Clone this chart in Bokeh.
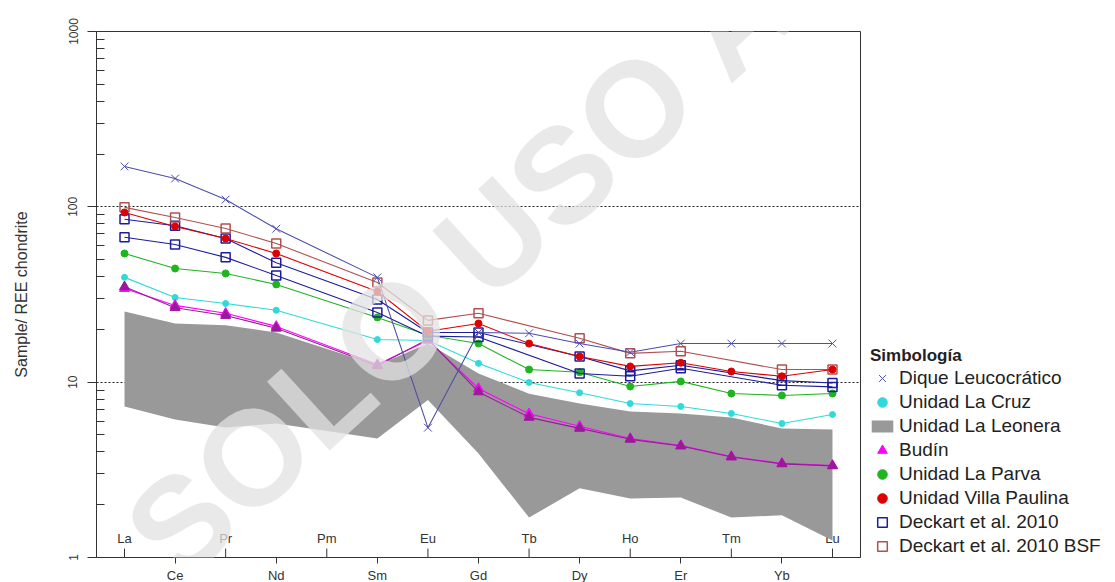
from bokeh.plotting import figure
from bokeh.models import Range1d, FixedTicker, Legend, LegendItem, Label
from bokeh.embed import file_html
from bokeh.resources import INLINE
from bokeh.core.properties import value

# Chondrite-normalised REE patterns (None = not analysed)
ELEMENTS = ["La", "Ce", "Pr", "Nd", "Pm", "Sm", "Eu", "Gd",
            "Tb", "Dy", "Ho", "Er", "Tm", "Yb", "Lu"]

dique_leucocratico = [170, 145, 110, 75, None, 39.6, 5.5, 19.2, 19.0, 16.6, 14.8, 16.6, 16.6, 16.6, 16.6]
unidad_la_cruz = [39.6, 30.4, 28.1, 25.7, None, 17.5, 17.3, 12.8, 9.96, 8.7, 7.55, 7.27, 6.63, 5.81, 6.54]
la_leonera_max = [25.3, 21.6, 21.1, 19.2, None, 12.5, 16.6, 11.2, 8.6, 7.56, 6.8, 6.63, 6.29, 5.44, 5.37]
la_leonera_min = [7.27, 6.13, 5.52, 5.81, None, 4.77, 7.9, 3.92, 1.69, 2.48, 2.17, 2.2, 1.69, 1.74, 1.25]
budin_1 = [34.2, 27.4, 24.7, 20.8, None, 12.6, 17.3, 9.2, 6.6, 5.6, 4.77, 4.35, 3.77, 3.44, 3.35]
budin_2 = [35.0, 26.6, 24.0, 20.3, None, 12.4, 17.6, 8.8, 6.3, 5.45, 4.72, 4.32, 3.74, 3.42, 3.33]
unidad_la_parva = [54.2, 44.5, 41.7, 36.1, None, 23.4, 18.5, 16.6, 11.8, 11.4, 9.45, 10.1, 8.62, 8.4, 8.62]
villa_paulina = [92.9, 77.3, 66.0, 54.2, None, 32.9, 19.5, 21.6, 16.6, 14.0, 12.3, 12.9, 11.5, 10.8, 11.8]
deckart_1 = [85, 78, 66, 48, None, 29.6, 19.2, 19.2, None, 14.0, 11.6, 12.5, None, 10.2, 9.9]
deckart_2 = [67, 61, 51.5, 40.6, None, 25.0, 18.3, 18.1, None, 11.2, 10.8, 12.0, None, 9.6, 9.4]
deckart_bsf = [99.3, 87, 75.3, 61.8, None, 37.0, 22.5, 24.7, None, 17.8, 14.6, 15.0, None, 11.8, 11.8]

Y_TICKS = [1, 10, 100, 1000]

FONT = "Liberation Sans"
TXT = "#333333"


def present(vals):
    xs = [i + 1 for i, v in enumerate(vals) if v is not None]
    ys = [v for v in vals if v is not None]
    return xs, ys


p = figure(frame_width=764, frame_height=526, y_axis_type="log",
           x_range=Range1d(0.446, 15.554), y_range=Range1d(1, 1000),
           output_backend="svg", toolbar_location=None,
           min_border_left=96, min_border_right=0,
           min_border_top=31, min_border_bottom=25)
p.background_fill_color = "white"
p.border_fill_color = "white"
p.outline_line_color = "#333333"
p.outline_line_width = 1

# dotted reference lines at 10 and 100
p.xgrid.visible = False
p.ygrid.ticker = FixedTicker(ticks=[10, 100])
p.ygrid.grid_line_color = "#222222"
p.ygrid.grid_line_dash = "2 2"
p.ygrid.grid_line_width = 1

# y axis
minor = [m * d for d in (1, 10, 100) for m in range(2, 10)]
p.yaxis.ticker = FixedTicker(ticks=Y_TICKS, minor_ticks=minor)
p.yaxis.major_label_overrides = {t: str(t) for t in Y_TICKS}
p.yaxis.major_label_orientation = "vertical"
p.yaxis.major_tick_out = 9
p.yaxis.major_tick_in = 0
p.yaxis.minor_tick_in = 8
p.yaxis.minor_tick_out = 0
p.yaxis.major_label_standoff = 10
p.yaxis.major_label_text_font = FONT
p.yaxis.major_label_text_font_size = "12px"
p.yaxis.major_label_text_color = TXT
p.yaxis.axis_label = "Sample/ REE chondrite"
p.yaxis.axis_label_text_font = FONT
p.yaxis.axis_label_text_font_size = "16px"
p.yaxis.axis_label_text_font_style = "normal"
p.yaxis.axis_label_text_color = TXT
p.yaxis.axis_label_standoff = 36
p.yaxis.axis_line_color = "#333333"
p.yaxis.major_tick_line_color = "#333333"
p.yaxis.minor_tick_line_color = "#333333"

# x axis: even positions labelled below, odd positions labelled inside
idx = list(range(1, len(ELEMENTS) + 1))
below = [i for i in idx if i % 2 == 0]
inside = [i for i in idx if i % 2 == 1]
p.xaxis.ticker = FixedTicker(ticks=below, minor_ticks=[])
p.xaxis.major_label_overrides = {i: ELEMENTS[i - 1] for i in below}
p.xaxis.major_tick_out = 6
p.xaxis.major_tick_in = 0
p.xaxis.major_label_standoff = 4
p.xaxis.major_label_text_font = FONT
p.xaxis.major_label_text_font_size = "13px"
p.xaxis.major_label_text_color = TXT
p.xaxis.axis_line_color = "#333333"
p.xaxis.major_tick_line_color = "#333333"

p.segment(x0=inside, y0=[1] * len(inside), x1=inside, y1=[1.125] * len(inside),
          line_color="#333333", line_width=1)
p.text(x=inside, y=[1] * len(inside), text=[ELEMENTS[i - 1] for i in inside],
       y_offset=-19, text_align="center", text_baseline="middle",
       text_font=value(FONT), text_font_size="13px", text_color=TXT)

# Unidad La Leonera field
field_x, field_top = present(la_leonera_max)
_, field_bot = present(la_leonera_min)
p.patch(field_x + field_x[::-1], field_top + field_bot[::-1],
        fill_color="#999999", line_color=None)


def sample(vals, color, marker, size, filled=True, line_width=1.1):
    xs, ys = present(vals)
    p.line(xs, ys, line_color=color, line_width=line_width)
    if filled:
        return p.scatter(xs, ys, marker=marker, size=size, fill_color=color,
                         line_color=color, line_width=1)
    return p.scatter(xs, ys, marker=marker, size=size, fill_color=None,
                     line_color=color, line_width=1.5)


C_DIQUE = "#4e4eab"
C_CRUZ = "#30dada"
C_BUDIN = "#ff00ff"
C_BUDIN2 = "#9a1a9a"
C_PARVA = "#1fb51f"
C_PAULINA = "#dd0000"
C_DECK = "#1c1c9c"
C_BSF = "#b05050"

r_cruz = sample(unidad_la_cruz, C_CRUZ, "circle", 6)
r_budin = sample(budin_1, C_BUDIN, "triangle", 10)
sample(budin_2, C_BUDIN2, "triangle", 10)
r_parva = sample(unidad_la_parva, C_PARVA, "circle", 7)
r_deck = sample(deckart_1, C_DECK, "square", 9, filled=False)
sample(deckart_2, C_DECK, "square", 9, filled=False)
r_bsf = sample(deckart_bsf, C_BSF, "square", 9, filled=False)
r_paulina = sample(villa_paulina, C_PAULINA, "circle", 7)
r_dique = sample(dique_leucocratico, C_DIQUE, "x", 11)

# legend swatch for the shaded field (drawn off-range, shown only in the legend)
swatch = p.scatter([-100], [10], marker="dash", size=10,
                   line_color="#999999", line_width=12, line_cap="square")

legend = Legend(items=[
    LegendItem(label="Dique Leucocrático", renderers=[r_dique]),
    LegendItem(label="Unidad La Cruz", renderers=[r_cruz]),
    LegendItem(label="Unidad La Leonera", renderers=[swatch]),
    LegendItem(label="Budín", renderers=[r_budin]),
    LegendItem(label="Unidad La Parva", renderers=[r_parva]),
    LegendItem(label="Unidad Villa Paulina", renderers=[r_paulina]),
    LegendItem(label="Deckart et al. 2010", renderers=[r_deck]),
    LegendItem(label="Deckart et al. 2010 BSF", renderers=[r_bsf]),
], location=(10, -1))
legend.title = "Simbología"
legend.title_text_font = FONT
legend.title_text_font_size = "17px"
legend.title_text_font_style = "bold"
legend.title_text_color = "#222222"
legend.title_standoff = 0
legend.glyph_width = 24
legend.glyph_height = 24
legend.label_height = 20
legend.spacing = 0
legend.padding = 0
legend.margin = 0
legend.label_standoff = 5
legend.label_text_font = FONT
legend.label_text_font_size = "19px"
legend.label_text_color = "#222222"
legend.border_line_color = None
legend.background_fill_alpha = 0
p.add_layout(legend, "right")

# watermark
p.add_layout(Label(x=102, y=-52, x_units="screen", y_units="screen",
                   text="SOLO USO ACADÉMICO", angle=0.74,
                   text_font=FONT, text_font_size="135px", text_font_style="bold",
                   text_color="#e2e2e2", text_alpha=0.75))

open("out.html", "w").write(file_html(p, INLINE))
